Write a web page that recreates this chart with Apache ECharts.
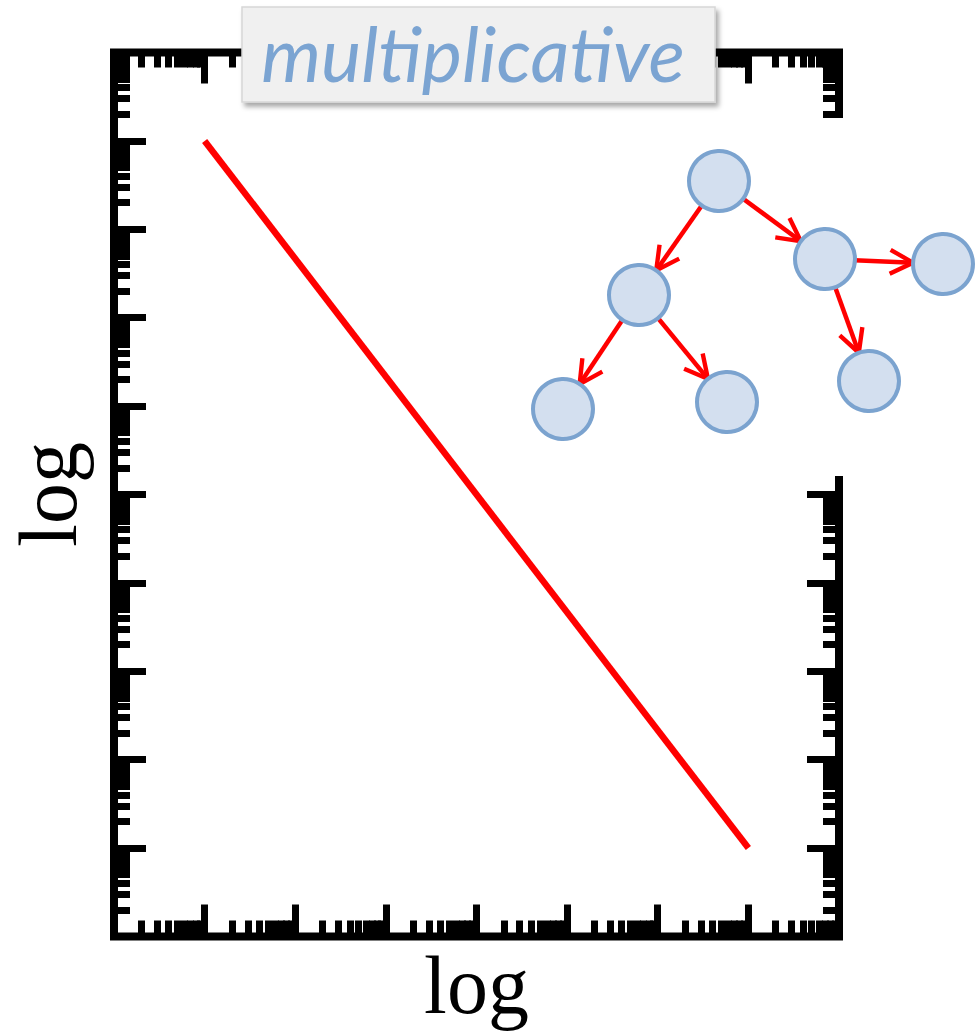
<!DOCTYPE html>
<html>
<head>
<meta charset="utf-8">
<script src="https://cdn.jsdelivr.net/npm/echarts@6.0.0/dist/echarts.min.js"></script>
<style>
  html, body { margin: 0; padding: 0; background: #ffffff; }
  #chart { width: 978px; height: 1034px; }
</style>
</head>
<body>
<div id="chart"></div>
<script>
// Power-law line on log–log axes (end points of the straight segment)
const lineX = [10, 1e7];
const lineY = [1e9, 10];

// Axis extents, one decade per major tick
const xRange = [1, 1e8];
const yRange = [1, 1e10];
const xMajorTicks = [1e1, 1e2, 1e3, 1e4, 1e5, 1e6, 1e7];
const yMajorTicks = [1e1, 1e2, 1e3, 1e4, 1e5, 1e6, 1e7, 1e8, 1e9];
const minorFactors = [2, 3, 4, 5, 6, 7, 8, 9];

const axisTitle = 'log';
const boxTitle = 'multiplicative';

// Branching tree: layout units, one unit per pixel
const treeNodes = [
  { name: 'root',   x: 156, y: 0 },
  { name: 'left',   x: 76,  y: 114 },
  { name: 'right',  x: 262, y: 78 },
  { name: 'far',    x: 380, y: 83 },
  { name: 'leafL',  x: 0,   y: 228 },
  { name: 'leafM',  x: 164, y: 221 },
  { name: 'leafR',  x: 306, y: 200 }
];
const treeEdges = [
  ['root', 'left'], ['root', 'right'],
  ['right', 'far'], ['right', 'leafR'],
  ['left', 'leafL'], ['left', 'leafM']
];

// minor ticks k·10^n for every decade inside the range
function minorTicks(range) {
  const out = [];
  for (let d = range[0]; d < range[1]; d *= 10) {
    minorFactors.forEach(function (k) { out.push(k * d); });
  }
  return out;
}

// open "V" arrow head, tip at the centre of a square box
const arrowHead = 'path://M0,-4.31L12.77,20.07L9.23,21.93L0,4.31L-9.23,21.93L-12.77,20.07Z' +
  'M-22,-22L-21.99,-22L-22,-21.99Z M22,22L21.99,22L22,21.99Z';

const TICK_W = 7;
function tickAxis(kind, pos, range, values, len, withName) {
  const ax = {
    type: 'log',
    logBase: 10,
    min: range[0],
    max: range[1],
    position: pos,
    gridIndex: 0,
    axisLine: { show: false, onZero: false },
    axisLabel: { show: false },
    splitLine: { show: false },
    minorTick: { show: false },
    axisTick: {
      show: true,
      inside: true,
      length: len,
      customValues: values,
      lineStyle: { color: '#000000', width: TICK_W, cap: 'butt' }
    },
    silent: true
  };
  if (withName) {
    ax.name = axisTitle;
    ax.nameLocation = 'middle';
    ax.nameGap = kind === 'x' ? 8 : 25;
    ax.nameTextStyle = {
      fontFamily: 'Liberation Serif',
      fontSize: 82,
      color: '#000000'
    };
  }
  return ax;
}

const chart = echarts.init(document.getElementById('chart'), null, { renderer: 'svg' });

chart.setOption({
  animation: false,
  backgroundColor: '#ffffff',
  grid: {
    left: 114, top: 52.5, right: 139, bottom: 97.5,
    containLabel: false,
    outerBoundsMode: 'none',
    show: true,
    borderWidth: 8,
    borderColor: '#000000',
    backgroundColor: '#ffffff'
  },
  xAxis: [
    tickAxis('x', 'bottom', xRange, xMajorTicks, 32, true),
    tickAxis('x', 'bottom', xRange, minorTicks(xRange), 16, false),
    tickAxis('x', 'top', xRange, xMajorTicks, 31, false),
    tickAxis('x', 'top', xRange, minorTicks(xRange), 15, false)
  ],
  yAxis: [
    tickAxis('y', 'left', yRange, yMajorTicks, 32, true),
    tickAxis('y', 'left', yRange, minorTicks(yRange), 16, false),
    tickAxis('y', 'right', yRange, yMajorTicks, 32, false),
    tickAxis('y', 'right', yRange, minorTicks(yRange), 16, false)
  ],
  series: [
    {
      type: 'line',
      xAxisIndex: 0,
      yAxisIndex: 0,
      data: lineX.map(function (x, i) { return [x, lineY[i]]; }),
      symbol: 'none',
      silent: true,
      z: 3,
      lineStyle: { color: '#ff0000', width: 6.5, cap: 'butt' }
    },
    {
      type: 'graph',
      layout: 'none',
      silent: true,
      z: 5,
      left: 563, top: 181, width: 380, height: 228,
      symbol: 'circle',
      symbolSize: 60,
      label: { show: false },
      itemStyle: { color: '#d3dfef', borderColor: '#7ba3cf', borderWidth: 4 },
      lineStyle: { color: '#ff0000', width: 4.5, opacity: 1, curveness: 0 },
      edgeSymbol: ['none', arrowHead],
      edgeSymbolSize: [0, 48],
      data: treeNodes.map(function (n) { return { name: n.name, x: n.x, y: n.y }; }),
      links: treeEdges.map(function (e) { return { source: e[0], target: e[1] }; })
    }
  ],
  graphic: [
    {
      // white backing of the tree diagram
      type: 'rect', z: 1, silent: true,
      shape: { x: 525, y: 118, width: 453, height: 358 },
      style: { fill: '#ffffff' }
    },
    {
      type: 'rect', z: 10, silent: true,
      shape: { x: 242, y: 7, width: 473, height: 95 },
      style: {
        fill: '#f0f0f0', stroke: '#d6d6d6', lineWidth: 1.5,
        shadowBlur: 5, shadowOffsetX: 3, shadowOffsetY: 4,
        shadowColor: 'rgba(0,0,0,0.35)'
      }
    },
    {
      type: 'text', z: 11, silent: true,
      style: {
        text: boxTitle,
        x: 473, y: 52,
        align: 'center', verticalAlign: 'middle',
        font: 'italic 76px Lato',
        fill: '#7ba4d2'
      }
    }
  ]
});
</script>
</body>
</html>
